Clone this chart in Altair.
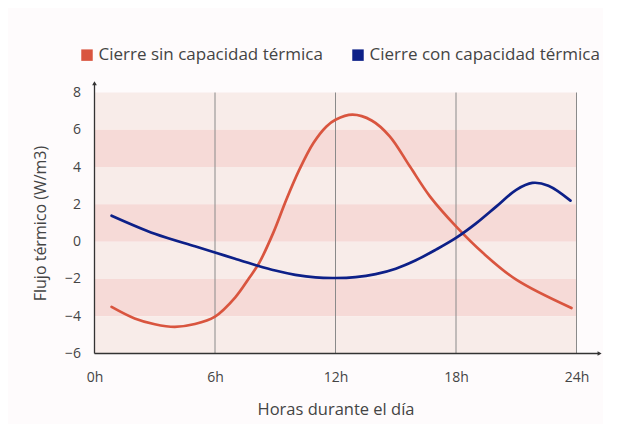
import altair as alt
import pandas as pd

# --- data ---
red_h = [0.85, 2.0, 3.0, 4.0, 5.0, 6.0, 7.0, 7.7, 8.2, 8.9, 9.55, 10.2, 10.9, 11.55, 12.0, 12.85, 13.8, 14.7, 15.7, 16.7, 18.0, 19.35, 21.0, 23.75]
red_v = [-3.5, -4.12, -4.43, -4.57, -4.42, -4.02, -3.0, -1.95, -1.14, 0.47, 2.25, 3.86, 5.29, 6.18, 6.54, 6.81, 6.5, 5.65, 4.04, 2.43, 0.82, -0.61, -2.04, -3.56]

blue_h = [0.85, 3.0, 5.0, 6.0, 7.0, 8.0, 9.0, 10.0, 11.0, 12.0, 13.0, 14.0, 15.0, 16.0, 17.0, 18.0, 19.0, 20.0, 21.0, 21.8, 22.6, 23.7]
blue_v = [1.39, 0.42, -0.25, -0.58, -0.92, -1.25, -1.55, -1.78, -1.92, -1.95, -1.9, -1.74, -1.45, -1.0, -0.43, 0.2, 0.98, 1.88, 2.78, 3.15, 3.0, 2.2]

series_names = ["Cierre sin capacidad térmica", "Cierre con capacidad térmica"]
series_colors = ["#d9553f", "#0d2088"]

x_ticks = [0, 6, 12, 18, 24]
y_ticks = [-6, -4, -2, 0, 2, 4, 6, 8]
grid_hours = [6, 12, 18, 24]
band_lo = [6, 4, 2, 0, -2, -4, -6]
band_hi = [8, 6, 4, 2, 0, -2, -4]
band_kind = ["light", "dark", "light", "dark", "light", "dark", "light"]

FONT = "Open Sans"

# --- tables ---
lines = pd.concat([
    pd.DataFrame({"h": red_h, "v": red_v, "serie": series_names[0]}),
    pd.DataFrame({"h": blue_h, "v": blue_v, "serie": series_names[1]}),
])
bands = pd.DataFrame({"lo": band_lo, "hi": band_hi, "kind": band_kind})
grid = pd.DataFrame({"h": grid_hours})

xs = alt.Scale(domain=[0, 24], nice=False)
ys = alt.Scale(domain=[-6, 8], nice=False)

X_AXIS = alt.Axis(values=x_ticks, labelExpr="datum.value + 'h'", title="Horas durante el día",
                  domain=False, ticks=False, grid=False, labelPadding=17, titlePadding=17,
                  labelOverlap=False, labelFlush=False, titleFontSize=16.5)
Y_AXIS = alt.Axis(values=y_ticks, title="Flujo térmico (W/m3)",
                  domain=False, ticks=False, grid=False, labelPadding=14, titlePadding=16,
                  labelOverlap=False, labelFlush=False)

stripes = alt.Chart(bands).mark_rect().encode(
    x=alt.value(0), x2=alt.value(482),
    y=alt.Y("hi:Q", scale=ys, axis=Y_AXIS), y2="lo:Q",
    color=alt.Color("kind:N", scale=alt.Scale(domain=["light", "dark"], range=["#f8ece9", "#f6dad7"]), legend=None),
)

vlines = alt.Chart(grid).mark_rule(color="#8a8a8a", strokeWidth=1).encode(
    x=alt.X("h:Q", scale=xs, axis=X_AXIS), y=alt.value(0), y2=alt.value(261)
)

curves = alt.Chart(lines).mark_line(interpolate="catmull-rom", strokeWidth=2.7, strokeCap="round").encode(
    x=alt.X("h:Q", scale=xs, axis=X_AXIS),
    y=alt.Y("v:Q", scale=ys, axis=Y_AXIS),
    color=alt.Color("serie:N", scale=alt.Scale(domain=series_names, range=series_colors), sort=series_names,
                    legend=alt.Legend(orient="none", legendX=-16, legendY=-46, direction="horizontal",
                                      title=None, symbolType="square", symbolSize=20, symbolStrokeWidth=7,
                                      labelFontSize=17, labelColor="#444", labelFont=FONT,
                                      labelLimit=0, columnPadding=18, labelOffset=3, padding=0)),
    detail="serie:N",
)

# axis lines with arrows
xaxis = alt.Chart(pd.DataFrame({"a": [0], "b": [25.15], "y": [-6]})).mark_rule(color="#333", strokeWidth=1.3).encode(
    x=alt.X("a:Q", scale=xs, axis=X_AXIS), x2="b:Q", y=alt.Y("y:Q", scale=ys, axis=Y_AXIS))
yaxis = alt.Chart(pd.DataFrame({"x": [0], "a": [-6], "b": [8.5]})).mark_rule(color="#333", strokeWidth=1.3).encode(
    x=alt.X("x:Q", scale=xs, axis=X_AXIS), y=alt.Y("a:Q", scale=ys, axis=Y_AXIS), y2="b:Q")
xarrow = alt.Chart(pd.DataFrame({"x": [25.15], "y": [-6]})).mark_point(shape="triangle-right", filled=True, color="#333", size=22, opacity=1).encode(
    x=alt.X("x:Q", scale=xs, axis=X_AXIS), y=alt.Y("y:Q", scale=ys, axis=Y_AXIS))
yarrow = alt.Chart(pd.DataFrame({"x": [0], "y": [8.5]})).mark_point(shape="triangle-up", filled=True, color="#333", size=22, opacity=1).encode(
    x=alt.X("x:Q", scale=xs, axis=X_AXIS), y=alt.Y("y:Q", scale=ys, axis=Y_AXIS))

chart = alt.layer(stripes, vlines, curves, xaxis, yaxis, xarrow, yarrow).resolve_scale(color="independent").properties(
    width=482, height=261,
    autosize=alt.AutoSizeParams(type="none"),
    padding={"left": 86.5, "top": 84.5, "right": 26, "bottom": 70},
    background="#fefbfc",
).configure_view(stroke=None).configure_axis(
    labelFont=FONT, titleFont=FONT, labelFontSize=14, titleFontSize=16,
    labelColor="#444", titleColor="#444", titleFontWeight="normal", labelOverlap=False,
)

chart.save("out.html", embed_options={"renderer": "svg", "actions": False})
